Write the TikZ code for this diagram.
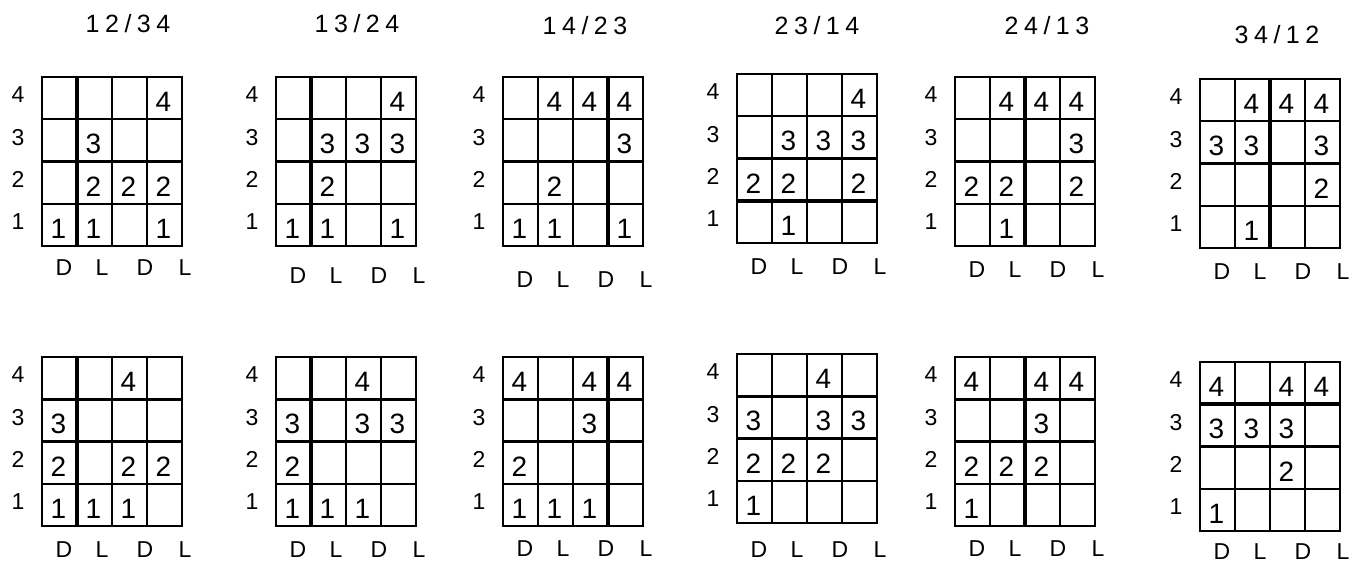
\documentclass[tikz,border=0pt]{standalone}
\usepackage{fontspec}
\setmainfont{Liberation Sans}
\newcommand\cw{35}
\newcommand\ch{42.25}
\tikzset{
 gridline/.style={line width=2.5pt, black, line cap=rect},
 sepline/.style={line width=4.2pt, black},
 digit/.style={font=\fontsize{28}{28}\selectfont, inner sep=0pt, anchor=center},
 rowlab/.style={font=\fontsize{23}{23}\selectfont, inner sep=0pt},
 collab/.style={font=\fontsize{23}{23}\selectfont, inner sep=0pt},
 titlelab/.style={font=\fontsize{25}{25}\selectfont\addfontfeature{LetterSpace=22}, inner sep=0pt},
}
% #1 name, #2 left, #3 top, #4 column-label y, #5 entries col/row/digit, #6 separator code
\newcommand\drawgrid[6]{%
\begin{scope}[shift={(#2,#3)}]
 \foreach \i in {0,...,4}{
   \draw[gridline] ({\i*\cw},0) -- ({\i*\cw},169);
   \draw[gridline] (0,{\i*\ch}) -- (140,{\i*\ch});
 }
 #6
 \foreach \c/\r/\d in {#5}{
   \node[digit] (#1-\c-\r) at ({(\c-0.5)*\cw-1},{(4-\r)*\ch+25}) {\d};
 }
 \foreach \r in {1,...,4}{
   \node[rowlab] (#1-row\r) at (-24,{(4-\r)*\ch+18}) {\r};
 }
\end{scope}
\node[collab] (#1-colA) at ({#2+22},#4) {D};
\node[collab] (#1-colB) at ({#2+60},#4) {L};
\node[collab] (#1-colC) at ({#2+103},#4) {D};
\node[collab] (#1-colD) at ({#2+143},#4) {L};
}
\begin{document}
\begin{tikzpicture}[x=1pt,y=-1pt]
\useasboundingbox (0,0) rectangle (1371,567);
% titles
\node[titlelab] (t1) at (128,24) {12/34};
\node[titlelab] (t2) at (357,24) {13/24};
\node[titlelab] (t3) at (585,26) {14/23};
\node[titlelab] (t4) at (817,26) {23/14};
\node[titlelab] (t5) at (1047,26) {24/13};
\node[titlelab] (t6) at (1277,35) {34/12};
% top row
\drawgrid{g1}{42}{77}{268}{4/4/4, 2/3/3, 2/2/2, 3/2/2, 4/2/2, 1/1/1, 2/1/1, 4/1/1}{\draw[sepline] (35,0) -- (35,169);}
\drawgrid{g2}{276}{77}{276}{4/4/4, 2/3/3, 3/3/3, 4/3/3, 2/2/2, 1/1/1, 2/1/1, 4/1/1}{\draw[sepline] (35,0) -- (35,169);}
\drawgrid{g3}{503}{77}{280}{2/4/4, 3/4/4, 4/4/4, 4/3/3, 2/2/2, 1/1/1, 2/1/1, 4/1/1}{\draw[sepline] (105,0) -- (105,169);}
\drawgrid{g4}{737}{74}{267}{4/4/4, 2/3/3, 3/3/3, 4/3/3, 1/2/2, 2/2/2, 4/2/2, 2/1/1}{\draw[sepline] (0,126.75) -- (140,126.75);}
\drawgrid{g5}{955}{77}{270}{2/4/4, 3/4/4, 4/4/4, 4/3/3, 1/2/2, 2/2/2, 4/2/2, 2/1/1}{\draw[sepline] (70,0) -- (70,169);}
\drawgrid{g6}{1200}{79}{272}{2/4/4, 3/4/4, 4/4/4, 1/3/3, 2/3/3, 4/3/3, 4/2/2, 2/1/1}{\draw[sepline] (70,0) -- (70,169);}
% bottom row
\drawgrid{g7}{42}{357}{550}{3/4/4, 1/3/3, 1/2/2, 3/2/2, 4/2/2, 1/1/1, 2/1/1, 3/1/1}{\draw[sepline] (35,0) -- (35,169);}
\drawgrid{g8}{276}{357}{550}{3/4/4, 1/3/3, 3/3/3, 4/3/3, 1/2/2, 1/1/1, 2/1/1, 3/1/1}{\draw[sepline] (35,0) -- (35,169);}
\drawgrid{g9}{503}{357}{549}{1/4/4, 3/4/4, 4/4/4, 3/3/3, 1/2/2, 1/1/1, 2/1/1, 3/1/1}{\draw[sepline] (105,0) -- (105,169);}
\drawgrid{g10}{737}{354}{550}{3/4/4, 1/3/3, 3/3/3, 4/3/3, 1/2/2, 2/2/2, 3/2/2, 1/1/1}{}
\drawgrid{g11}{955}{357}{549}{1/4/4, 3/4/4, 4/4/4, 3/3/3, 1/2/2, 2/2/2, 3/2/2, 1/1/1}{\draw[sepline] (70,0) -- (70,169);}
\drawgrid{g12}{1200}{362}{552}{1/4/4, 3/4/4, 4/4/4, 1/3/3, 2/3/3, 3/3/3, 3/2/2, 1/1/1}{\draw[sepline] (0,42.25) -- (140,42.25);}
\end{tikzpicture}
\end{document}
